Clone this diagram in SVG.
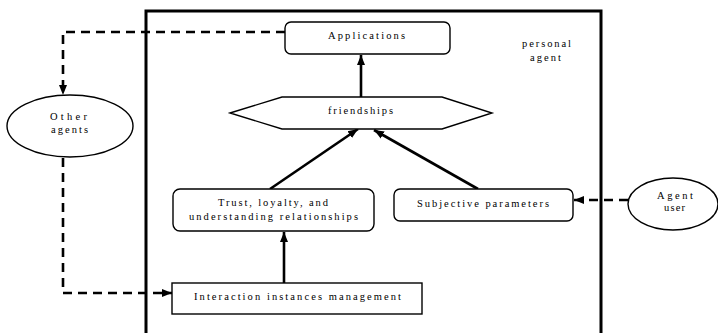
<svg xmlns="http://www.w3.org/2000/svg" width="718" height="333" viewBox="0 0 718 333">
<style>
.box{fill:#fff;stroke:#000;stroke-width:1.4}
.t{font-family:"Liberation Serif","Times New Roman",serif;font-size:10.5px;fill:#000}
.solid{fill:none;stroke:#000;stroke-width:2.6}
.dash{fill:none;stroke:#000;stroke-width:2.6;stroke-dasharray:9 6}
</style>
<defs>
<marker id="ah" markerUnits="userSpaceOnUse" markerWidth="10" markerHeight="10" viewBox="0 0 10 10" refX="10" refY="5" orient="auto">
<path d="M0,1 L10,5 L0,9 Z" fill="#000"/>
</marker>
</defs>
<rect width="718" height="333" fill="#fff"/>
<g id="frame">
<path d="M146,340 L146,11 L601,11 L601,340" fill="none" stroke="#000" stroke-width="3"/>
<text class="t" x="522" y="47" textLength="49" lengthAdjust="spacing">personal</text>
<text class="t" x="530" y="61" textLength="31" lengthAdjust="spacing">agent</text>
</g>
<g id="connectors">
<path class="solid" d="M361,97 L361,55" marker-end="url(#ah)"/>
<path class="solid" d="M270,189 L358,129" marker-end="url(#ah)"/>
<path class="solid" d="M478,189 L374,130" marker-end="url(#ah)"/>
<path class="solid" d="M284,283 L284,232" marker-end="url(#ah)"/>
<path class="dash" d="M285,32 L63,32 L63,95" marker-end="url(#ah)"/>
<path class="dash" d="M63,158 L63,293 L172,293" marker-end="url(#ah)"/>
<path class="dash" d="M628,200 L574,200" marker-end="url(#ah)"/>
</g>
<g id="applications">
<rect class="box" x="285" y="22" width="165" height="32" rx="6"/>
<text class="t" x="328" y="39" textLength="77" lengthAdjust="spacing">Applications</text>
</g>
<g id="friendships">
<polygon class="box" points="230,113 282,97 442,97 492,113 442,129 282,129"/>
<text class="t" x="328" y="114" textLength="65" lengthAdjust="spacing">friendships</text>
</g>
<g id="trust">
<rect class="box" x="173" y="189" width="201" height="42" rx="7"/>
<text class="t" x="218" y="206" textLength="110" lengthAdjust="spacing">Trust, loyalty, and</text>
<text class="t" x="189" y="220" textLength="169" lengthAdjust="spacing">understanding relationships</text>
</g>
<g id="subjective">
<rect class="box" x="394" y="189" width="179" height="32" rx="6"/>
<text class="t" x="417" y="207" textLength="132" lengthAdjust="spacing">Subjective parameters</text>
</g>
<g id="interaction">
<rect class="box" x="172" y="283" width="250" height="31"/>
<text class="t" x="194" y="300" textLength="207" lengthAdjust="spacing">Interaction instances management</text>
</g>
<g id="other-agents">
<ellipse class="box" cx="70" cy="126" rx="63" ry="31"/>
<text class="t" x="50" y="120" textLength="37" lengthAdjust="spacing">Other</text>
<text class="t" x="51" y="133" textLength="37" lengthAdjust="spacing">agents</text>
</g>
<g id="agent-user">
<ellipse class="box" cx="673" cy="204" rx="45" ry="26"/>
<text class="t" x="657" y="199" textLength="36" lengthAdjust="spacing">Agent</text>
<text class="t" x="664" y="211" textLength="21" lengthAdjust="spacing">user</text>
</g>
</svg>
